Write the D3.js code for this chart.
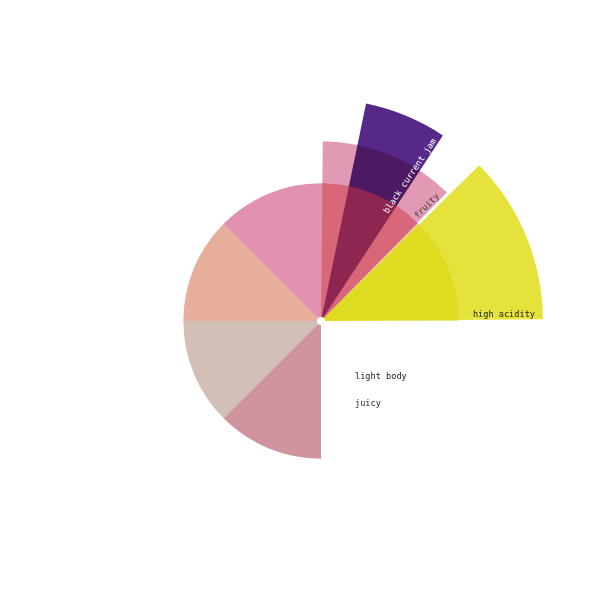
<!DOCTYPE html>
<html><head><meta charset="utf-8">
<script src="https://cdn.jsdelivr.net/npm/d3@7"></script>
<style>body{margin:0;background:#fff}</style>
</head><body>
<svg id="c" width="600" height="600"></svg>
<script>
// Outer (flavour) wedges
const outerLabels = ["fruity", "black current jam", "high acidity"];
const outerStart = [0, 11.25, 45];      // degrees, clockwise from 12 o'clock
const outerEnd = [45, 33.75, 90];
const outerValues = [81, 100, 100];
const outerColors = ["#e29ab4", "#55288a", "#e5e23b"];
const outerTextColors = ["#3a3a3a", "#ffffff", "#222222"];

// Inner (base) wedges, 45° each
const innerStart = [0, 45, 90, 135, 180, 225, 270, 315];
const innerValues = [62, 62, 0, 0, 62, 62, 62, 62];
const innerColors = ["#ce3440", "#d9d407", "#ffffff", "#ffffff", "#9f2941", "#a57f6b", "#d15d39", "#c52561"];

// Notes listed under the chart centre
const notes = ["light body", "juicy"];

const svg = d3.select("#c");
const cx = 321, cy = 321;
const r = d3.scaleLinear().domain([0, 100]).range([0, 222]);
const rad = d => d * Math.PI / 180;
const g = svg.append("g").attr("transform", `translate(${cx},${cy})`);

const outerData = outerLabels.map((l, i) => ({label: l, s: outerStart[i], e: outerEnd[i], v: outerValues[i], c: outerColors[i], tc: outerTextColors[i]}));
const innerData = innerStart.map((s, i) => ({s: s, e: s + 45, v: innerValues[i], c: innerColors[i]}));

const outerArc = d3.arc().innerRadius(0).outerRadius(d => r(d.v))
  .startAngle(d => rad(d.s)).endAngle(d => rad(d.e)).padAngle(0.016).padRadius(222);
const innerArc = d3.arc().innerRadius(0).outerRadius(d => r(d.v))
  .startAngle(d => rad(d.s)).endAngle(d => rad(d.e));

g.append("g").selectAll("path").data(outerData).join("path")
  .attr("d", outerArc).attr("fill", d => d.c)
  .style("mix-blend-mode", "multiply");

g.append("g").selectAll("path").data(innerData.filter(d => d.v > 0)).join("path")
  .attr("d", innerArc).attr("fill", d => d.c).attr("fill-opacity", 0.5);

g.append("circle").attr("r", 4).attr("fill", "#fff");

const font = "'DejaVu Sans Mono', monospace";
g.append("g").selectAll("text").data(outerData).join("text")
  .attr("transform", d => `rotate(${d.e - 90})`)
  .attr("x", d => r(d.v) - 8).attr("y", -4)
  .attr("text-anchor", "end")
  .style("font-family", font).style("font-size", "8.6px")
  .attr("fill", d => d.tc)
  .text(d => d.label);

g.append("g").selectAll("text").data(notes).join("text")
  .attr("x", 34).attr("y", (d, i) => 58 + i * 27)
  .style("font-family", font).style("font-size", "8.6px")
  .attr("fill", "#222")
  .text(d => d);
</script>
</body></html>
